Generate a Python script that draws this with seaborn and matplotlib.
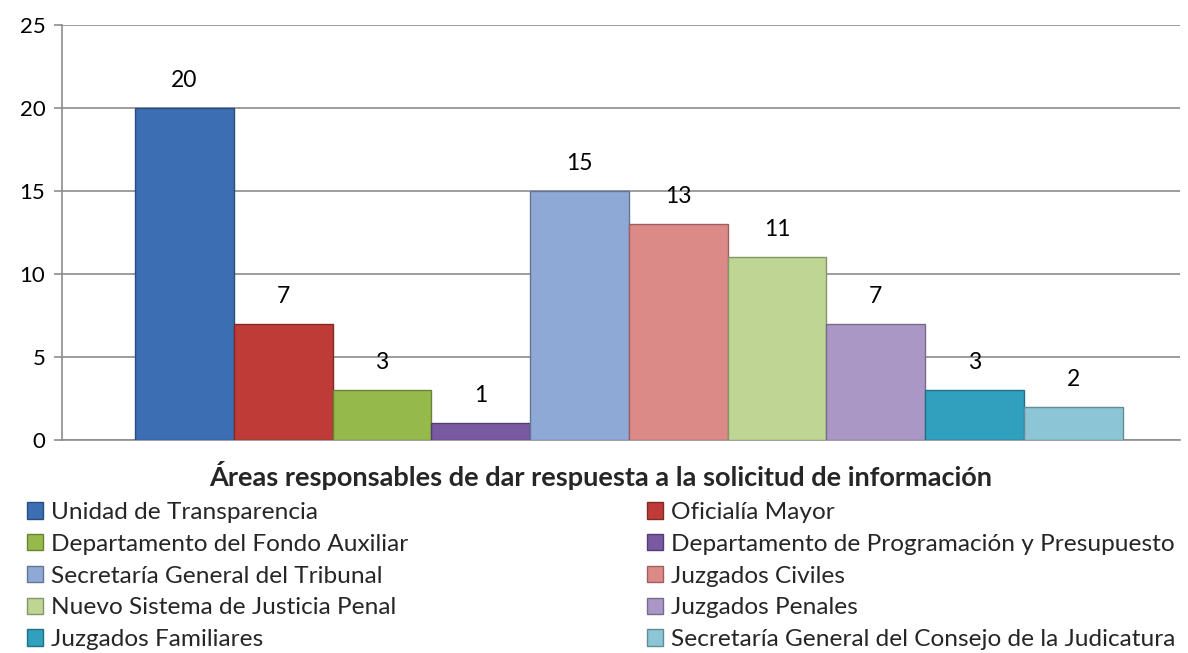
import matplotlib
matplotlib.use("Agg")
import matplotlib.pyplot as plt
import seaborn as sns
import pandas as pd

areas = [
    "Unidad de Transparencia",
    "Oficialía Mayor",
    "Departamento del Fondo Auxiliar",
    "Departamento de Programación y Presupuesto",
    "Secretaría General del Tribunal",
    "Juzgados Civiles",
    "Nuevo Sistema de Justicia Penal",
    "Juzgados Penales",
    "Juzgados Familiares",
    "Secretaría General del Consejo de la Judicatura",
]
valores = [20, 7, 3, 1, 15, 13, 11, 7, 3, 2]
colores = ["#3B6EB2", "#BE3B37", "#96B94B", "#7859A2", "#8EA9D6",
           "#DC8A88", "#BFD594", "#AA97C6", "#2FA0BD", "#8CC6D6"]
titulo_x = "Áreas responsables de dar respuesta a la solicitud de información"
yticks = [0, 5, 10, 15, 20, 25]

sns.set_theme(style="white")
plt.rcParams["font.family"] = ["Lato", "DejaVu Sans"]

df = pd.DataFrame({"area": areas, "valor": valores})
fig = plt.figure(figsize=(11.88, 6.53), dpi=100)
ax = fig.add_axes([62 / 1188, 1 - 440 / 653, (1180 - 62) / 1188, (440 - 25) / 653])

sns.barplot(data=df, x="area", y="valor", hue="area", palette=colores,
            hue_order=areas, order=areas, width=1.0, dodge=False,
            ax=ax, legend=True, saturation=1)

for p in ax.patches:
    fc = p.get_facecolor()
    p.set_edgecolor(tuple(c * 0.7 for c in fc[:3]))
    p.set_linewidth(1.0)
    p.set_zorder(3)

for i, v in enumerate(valores):
    ax.annotate(str(v), (i, v), xytext=(0, 20), textcoords="offset points",
                ha="center", va="center", fontsize=16.5, color="black")

ax.set_xlim(-1.24, 10.08)
ax.set_ylim(0, 25)
ax.set_yticks(yticks)
ax.set_yticklabels([str(t) for t in yticks], fontsize=16)
ax.set_xticks([])
ax.set_xlabel("")
ax.set_ylabel("")
ax.yaxis.grid(True, color="#8C8C8C", linewidth=1.2, zorder=0)
ax.set_axisbelow(True)
ax.tick_params(axis="y", which="major", left=True, length=6, width=1.2,
               color="#8C8C8C", pad=6, labelcolor="black")
for s in ["top", "right"]:
    ax.spines[s].set_visible(False)
for s in ["left", "bottom"]:
    ax.spines[s].set_color("#8C8C8C")
    ax.spines[s].set_linewidth(1.2)

fig.text(601 / 1188, 1 - 475 / 653, titulo_x, ha="center", va="center",
         fontsize=19.5, fontweight="bold")

handles, labels = ax.get_legend_handles_labels()
ax.get_legend().remove()
h1 = [handles[i] for i in range(0, 10, 2)]
l1 = [labels[i] for i in range(0, 10, 2)]
h2 = [handles[i] for i in range(1, 10, 2)]
l2 = [labels[i] for i in range(1, 10, 2)]
kw = dict(frameon=False, fontsize=17.6, handlelength=0.65, handleheight=0.65,
          handletextpad=0.35, labelspacing=0.44, borderpad=0, borderaxespad=0,
          loc="upper left")
leg1 = fig.legend(h1, l1, bbox_to_anchor=(27 / 1188, 1 - 502 / 653), **kw)
leg2 = fig.legend(h2, l2, bbox_to_anchor=(647 / 1188, 1 - 502 / 653), **kw)

fig.savefig("out.png", dpi=100)
